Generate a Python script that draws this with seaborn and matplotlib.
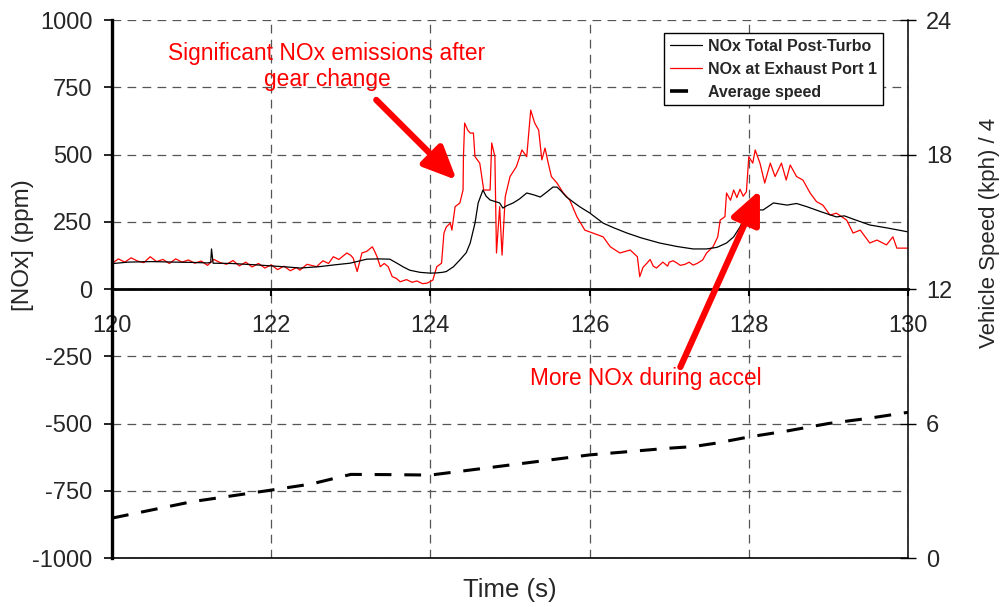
import matplotlib
matplotlib.use('Agg')
import matplotlib.pyplot as plt
import seaborn as sns
import pandas as pd
from matplotlib.lines import Line2D

# values
time_total = [120.00, 120.02, 120.2, 120.5, 120.8, 121.0, 121.2, 121.24, 121.25, 121.27,
              121.5, 121.8, 122.0, 122.2, 122.36, 122.6, 122.8, 122.99, 123.2, 123.35,
              123.49, 123.58, 123.66, 123.74, 123.87, 124.0, 124.08, 124.15, 124.2, 124.29,
              124.37, 124.45, 124.5, 124.56, 124.6, 124.66, 124.7, 124.75, 124.87, 124.91,
              124.96, 125.04, 125.12, 125.21, 125.3, 125.38, 125.46, 125.54, 125.59, 125.64,
              125.71, 125.8, 125.88, 126.0, 126.17, 126.3, 126.47, 126.65, 126.88, 127.1,
              127.3, 127.47, 127.6, 127.72, 127.81, 127.89, 127.93, 128.05, 128.18, 128.31,
              128.48, 128.6, 128.73, 128.9, 129.1, 129.2, 129.31, 129.52, 129.74, 129.99]
nox_total = [70, 95, 100, 102, 100, 99, 97, 99, 149, 96,
             95, 90, 86, 82, 78, 83, 90, 96, 111, 112,
             111, 96, 82, 70, 62, 59, 60, 62, 65, 83,
             108, 135, 171, 245, 320, 368, 345, 331, 320, 301,
             310, 320, 335, 357, 350, 342, 360, 379, 379, 365,
             342, 322, 305, 283, 245, 228, 208, 190, 171, 158,
             149, 149, 155, 171, 194, 231, 256, 294, 294, 320,
             312, 318, 306, 288, 268, 272, 260, 238, 227, 213]

time_port = [120.0, 120.08, 120.16, 120.24, 120.32, 120.4, 120.48, 120.56, 120.64, 120.72,
             120.8, 120.88, 120.96, 121.04, 121.12, 121.2, 121.28, 121.36, 121.44, 121.52,
             121.6, 121.68, 121.76, 121.84, 121.92, 122.0, 122.08, 122.16, 122.24, 122.32,
             122.36, 122.45, 122.57, 122.65, 122.72, 122.78, 122.85, 122.95, 123.0, 123.03,
             123.08, 123.14, 123.2, 123.27, 123.3, 123.33, 123.37, 123.42, 123.47, 123.52,
             123.57, 123.62, 123.7, 123.77, 123.83, 123.9, 123.96, 124.03, 124.08, 124.14,
             124.17, 124.2, 124.25, 124.27, 124.31, 124.37, 124.41, 124.415, 124.43, 124.47,
             124.5, 124.54, 124.56, 124.62, 124.67, 124.71, 124.75, 124.77, 124.81, 124.83,
             124.87, 124.9, 124.94, 125.0, 125.08, 125.15, 125.21, 125.26, 125.31, 125.36,
             125.4, 125.44, 125.48, 125.52, 125.59, 125.67, 125.75, 125.84, 125.94, 126.04,
             126.17, 126.26, 126.38, 126.51, 126.6, 126.63, 126.67, 126.72, 126.76, 126.8,
             126.84, 126.88, 126.92, 126.98, 127.0, 127.05, 127.1, 127.14, 127.2, 127.25,
             127.3, 127.35, 127.42, 127.47, 127.55, 127.61, 127.64, 127.7, 127.72, 127.77,
             127.81, 127.85, 127.89, 127.93, 127.97, 128.0, 128.05, 128.08, 128.14, 128.2,
             128.27, 128.33, 128.41, 128.47, 128.52, 128.6, 128.68, 128.77, 128.85, 128.93,
             129.02, 129.1, 129.23, 129.31, 129.4, 129.52, 129.61, 129.73, 129.81, 129.86,
             129.99]
nox_port = [95, 112, 100, 116, 104, 98, 120, 102, 110, 95,
            112, 100, 108, 96, 104, 88, 110, 98, 92, 106,
            86, 100, 82, 95, 78, 90, 72, 85, 68, 80,
            70, 92, 83, 105, 95, 120, 110, 134, 125, 115,
            65, 134, 140, 157, 140, 120, 83, 95, 83, 46,
            40, 27, 35, 25, 30, 20, 22, 33, 83, 96,
            208, 231, 245, 219, 306, 320, 368, 492, 617, 590,
            580, 580, 492, 468, 368, 368, 368, 543, 492, 134,
            306, 126, 343, 418, 455, 517, 492, 665, 617, 591,
            480, 524, 468, 418, 394, 357, 331, 269, 219, 208,
            194, 157, 134, 145, 120, 46, 80, 96, 110, 85,
            78, 89, 100, 85, 100, 105, 96, 88, 92, 100,
            89, 95, 108, 134, 157, 194, 256, 269, 357, 330,
            368, 340, 371, 345, 362, 492, 468, 517, 468, 394,
            468, 418, 468, 405, 461, 418, 405, 357, 325, 312,
            275, 282, 256, 208, 219, 171, 182, 164, 194, 152,
            152]

time_speed = [120.0, 121.0, 122.0, 122.5, 123.0, 123.5, 124.0, 125.0, 126.0, 127.0,
              127.3, 127.6, 128.0, 128.5, 129.0, 129.5, 130.0]
speed_quarter = [1.78, 2.51, 3.03, 3.3, 3.73, 3.72, 3.7, 4.15, 4.6, 4.9,
                 4.97, 5.13, 5.4, 5.68, 6.0, 6.23, 6.5]

nox_ticks = [-1000, -750, -500, -250, 0, 250, 500, 750, 1000]
time_ticks = [120, 122, 124, 126, 128, 130]
speed_ticks = [0, 6, 12, 18, 24]

df_total = pd.DataFrame({'time': time_total, 'nox': nox_total})
df_port = pd.DataFrame({'time': time_port, 'nox': nox_port})
df_speed = pd.DataFrame({'time': time_speed, 'speed': speed_quarter})

sns.set_theme(style='white')
plt.rcParams['font.family'] = ['Liberation Sans', 'DejaVu Sans']
plt.rcParams['axes.unicode_minus'] = False

fig = plt.figure(figsize=(10.01, 6.07), dpi=100)
ax = fig.add_axes([0.1119, 0.0807, 0.7952, 0.8863])
ax2 = ax.twinx()

sns.lineplot(data=df_total, x='time', y='nox', ax=ax, color='black', linewidth=0.9, zorder=3)
sns.lineplot(data=df_port, x='time', y='nox', ax=ax, color='#ff0000', linewidth=0.9, zorder=2)
sns.lineplot(data=df_speed, x='time', y='speed', ax=ax2, color='black', linewidth=2.2)
ax2.lines[0].set_dashes((5.5, 4.2))

ax.set_xlim(120, 130)
ax.set_ylim(-1000, 1000)
ax2.set_ylim(0, 24)
ax.set_xticks(time_ticks)
ax.set_yticks(nox_ticks)
ax2.set_yticks(speed_ticks)

# dashed grid
ax.grid(True, linestyle=(0, (7, 5)), color='#555555', linewidth=0.9)
ax.set_axisbelow(True)

# spines
ax.spines['bottom'].set_position(('data', 0))
ax.spines['bottom'].set_linewidth(2.0)
ax.spines['left'].set_linewidth(2.4)
ax.spines['top'].set_visible(False)
ax.spines['right'].set_visible(False)
for s in ['left', 'bottom']:
    ax.spines[s].set_color('black')
ax2.spines['top'].set_visible(False)
ax2.spines['left'].set_visible(False)
ax2.spines['right'].set_linewidth(1.1)
ax2.spines['right'].set_color('black')
ax2.spines['bottom'].set_linewidth(1.2)
ax2.spines['bottom'].set_color('black')

ax.tick_params(axis='y', direction='out', length=6, width=1.2, color='black', pad=8,
               labelsize=17, left=True)
ax.tick_params(axis='x', direction='out', length=5, width=1.5, color='black', pad=14,
               labelsize=17, bottom=True)
ax2.tick_params(axis='y', direction='inout', length=12, width=1.0, color='black', pad=7,
                labelsize=17, right=True)

ax.set_xlabel('Time (s)', fontsize=18.5)
ax.xaxis.set_label_coords(0.5, -0.038)
ax.set_ylabel('[NOx] (ppm)', fontsize=17.5)
ax.yaxis.set_label_coords(-0.098, 0.582)
ax2.set_ylabel('Vehicle Speed (kph) / 4', fontsize=16)
ax2.yaxis.set_label_coords(1.089, 0.604)

# annotations
ax.text(122.70, 827, 'Significant NOx emissions after\ngear change', color='#ff0000',
        fontsize=16.4, ha='center', va='center', linespacing=1.2)
ax.text(126.70, -331, 'More NOx during accel', color='#ff0000',
        fontsize=16.3, ha='center', va='center')
arrow_kw = dict(arrowstyle='-|>,head_length=1.0,head_width=0.45', color='#ff0000',
                lw=4.5, mutation_scale=20, shrinkA=0, shrinkB=0)
ax2.annotate('', xy=(124.33, 405), xytext=(123.32, 703), xycoords=ax.transData,
             textcoords=ax.transData, arrowprops=arrow_kw)
ax2.annotate('', xy=(128.14, 368), xytext=(127.14, -290), xycoords=ax.transData,
             textcoords=ax.transData, arrowprops=arrow_kw)

handles = [Line2D([], [], color='black', linewidth=0.9),
           Line2D([], [], color='#ff0000', linewidth=0.9),
           Line2D([], [], color='black', linewidth=2.6, linestyle=(0, (5.0, 10)))]
labels = ['NOx Total Post-Turbo', 'NOx at Exhaust Port 1', 'Average speed']
leg = ax2.legend(handles, labels, loc='upper right', bbox_to_anchor=(0.9686, 0.9758),
                 borderaxespad=0, frameon=True, fancybox=False, framealpha=1,
                 edgecolor='black', prop={'weight': 'bold', 'size': 11.5},
                 handlelength=2.0, handletextpad=0.4, labelspacing=0.5, borderpad=0.35)
leg.get_frame().set_linewidth(1.0)

fig.savefig('out.png', dpi=100)
